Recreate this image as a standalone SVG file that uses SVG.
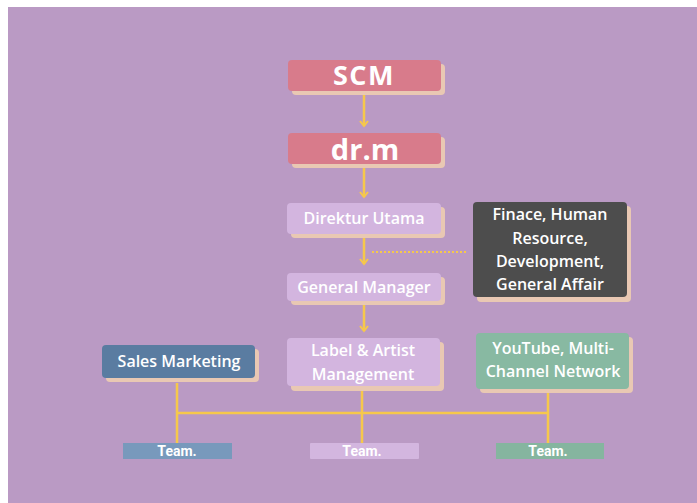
<svg xmlns="http://www.w3.org/2000/svg" width="697" height="503" viewBox="0 0 697 503">
<defs>
<style>
.sh{fill:#E9C8B3}
.t{font-family:"Open Sans","Noto Sans","DejaVu Sans",sans-serif;font-weight:600;fill:#FFFFFF;text-anchor:middle;font-size:16px}
.big{font-size:27px;font-weight:700}
.ln{stroke:#F6C84B;stroke-width:2.5;fill:none}
.tm{font-family:Roboto,"Liberation Sans",sans-serif;font-weight:700;fill:#FFFFFF;text-anchor:middle;font-size:14px}
</style>
<marker id="ah" viewBox="0 0 10 10" refX="8" refY="5" markerWidth="10" markerHeight="10" markerUnits="userSpaceOnUse" orient="auto">
<path d="M3,1 L8,5 L3,9" fill="none" stroke="#F6C84B" stroke-width="2"/>
</marker>
</defs>
<rect x="0" y="0" width="697" height="503" fill="#FFFFFF"/>
<rect x="8" y="7" width="689" height="496" fill="#BA9AC4"/>

<g id="connectors">
<line class="ln" x1="364" y1="95" x2="364" y2="126" marker-end="url(#ah)"/>
<line class="ln" x1="364" y1="168" x2="364" y2="197" marker-end="url(#ah)"/>
<line class="ln" x1="364" y1="238" x2="364" y2="264" marker-end="url(#ah)"/>
<line class="ln" x1="364" y1="305" x2="364" y2="331" marker-end="url(#ah)"/>
<line x1="372" y1="252" x2="466" y2="252" stroke="#F6C84B" stroke-width="2" stroke-dasharray="2,2"/>
<line class="ln" x1="177" y1="383" x2="177" y2="445"/>
<line class="ln" x1="362" y1="390" x2="362" y2="445"/>
<line class="ln" x1="548" y1="393" x2="548" y2="445"/>
<line class="ln" x1="177" y1="413" x2="548" y2="413"/>
</g>

<g id="scm">
<rect class="sh" x="292" y="64" width="153" height="31" rx="4"/>
<rect x="288" y="60" width="153" height="31" rx="4" fill="#D87B8B"/>
<text class="t big" x="364" y="85" letter-spacing="1.5">SCM</text>
</g>

<g id="drm">
<rect class="sh" x="292" y="137" width="153" height="31" rx="4"/>
<rect x="288" y="133" width="153" height="31" rx="4" fill="#D87B8B"/>
<text class="t big" x="365" y="160" style="font-size:29px">dr.m</text>
</g>

<g id="direktur">
<rect class="sh" x="291" y="207" width="154" height="31" rx="4"/>
<rect x="287" y="203" width="154" height="31" rx="4" fill="#D3B5DF"/>
<text class="t" x="364" y="224">Direktur Utama</text>
</g>

<g id="finance">
<rect class="sh" x="477" y="206" width="154" height="96" rx="4"/>
<rect x="473" y="202" width="154" height="95" rx="4" fill="#4D4D4D"/>
<text class="t" x="550" y="220">Finace, Human</text>
<text class="t" x="550" y="244">Resource,</text>
<text class="t" x="550" y="267">Development,</text>
<text class="t" x="550" y="290">General Affair</text>
</g>

<g id="gm">
<rect class="sh" x="291" y="277" width="154" height="28" rx="4"/>
<rect x="287" y="273" width="154" height="28" rx="4" fill="#D3B5DF"/>
<text class="t" x="364" y="293">General Manager</text>
</g>

<g id="label">
<rect class="sh" x="291" y="342" width="153" height="49" rx="4"/>
<rect x="287" y="338" width="153" height="48" rx="4" fill="#D3B5DF"/>
<text class="t" x="363" y="356">Label &amp; Artist</text>
<text class="t" x="363" y="380">Management</text>
</g>

<g id="sales">
<rect class="sh" x="106" y="349" width="153" height="33" rx="4"/>
<rect x="102" y="345" width="153" height="33" rx="4" fill="#5A7CA1"/>
<text class="t" x="179" y="367">Sales Marketing</text>
</g>

<g id="youtube">
<rect class="sh" x="480" y="337" width="153" height="56" rx="4"/>
<rect x="476" y="333" width="153" height="56" rx="4" fill="#88B9A2"/>
<text class="t" x="553" y="354">YouTube, Multi-</text>
<text class="t" x="553" y="377">Channel Network</text>
</g>

<g id="team1">
<rect x="123" y="443" width="109" height="16" fill="#7899BC"/>
<text class="tm" x="177" y="456">Team.</text>
</g>
<g id="team2">
<rect x="310" y="443" width="109" height="16" rx="1" fill="#D3B6DF"/>
<text class="tm" x="362" y="456">Team.</text>
</g>
<g id="team3">
<rect x="496" y="443" width="108" height="16" fill="#85B59F"/>
<text class="tm" x="548" y="456">Team.</text>
</g>
</svg>
